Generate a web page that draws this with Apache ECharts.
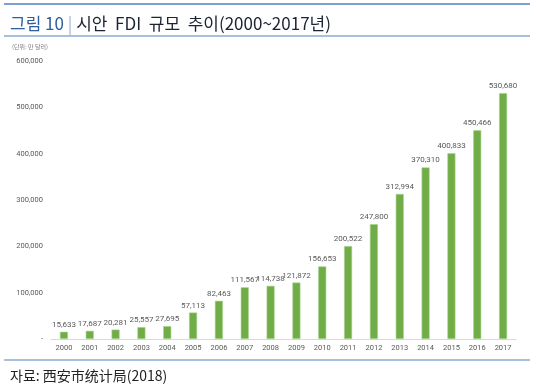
<!DOCTYPE html>
<html><head><meta charset="utf-8">
<script src="https://cdn.jsdelivr.net/npm/echarts@6/dist/echarts.min.js"></script>
<style>html,body{margin:0;padding:0;background:#fff}#c{width:536px;height:389px}</style>
</head><body><div id="c"></div>
<script>
const years = ['2000','2001','2002','2003','2004','2005','2006','2007','2008','2009','2010','2011','2012','2013','2014','2015','2016','2017'];
const fdi = [15633,17687,20281,25557,27695,57113,82463,111567,114738,121872,156653,200522,247800,312994,370310,400833,450466,530680];
const yTicks = [0,100000,200000,300000,400000,500000,600000];

const chart = echarts.init(document.getElementById('c'), null, {renderer:'canvas'});
const fmt = v => v === 0 ? '-' : v.toLocaleString('en-US');
chart.setOption({
  animation:false,
  textStyle:{fontFamily:'"Noto Sans CJK KR","Noto Sans",sans-serif'},
  title:[{
    left:5, top:10,
    text:'{a|그림 10}{b| | }{c|시안  FDI  규모  추이(2000~2017년)}',
    textStyle:{rich:{
      a:{fontSize:17,color:'#2E5E9E',fontWeight:'normal',fontFamily:'"Noto Sans CJK KR"'},
      b:{fontSize:17,color:'#9DB3D4',fontWeight:'normal',fontFamily:'"Noto Sans CJK KR"'},
      c:{fontSize:17,color:'#1B2433',fontWeight:'normal',fontFamily:'"Noto Sans CJK KR"'}
    }}
  },{
    left:7, top:39, text:'(단위: 만 달러)',
    textStyle:{fontSize:6,color:'#808080',fontWeight:'normal',fontFamily:'"Noto Sans CJK KR"'}
  },{
    left:5, top:364, text:'자료: 西安市统计局(2018)',
    textStyle:{fontSize:14,color:'#222',fontWeight:'normal',fontFamily:'"Noto Sans CJK KR"'}
  }],
  graphic:[
    {type:'line',shape:{x1:4,y1:4,x2:530,y2:4},style:{stroke:'#4F81BD',lineWidth:1.5}},
    {type:'line',shape:{x1:4,y1:36,x2:530,y2:36},style:{stroke:'#4F81BD',lineWidth:1}},
    {type:'line',shape:{x1:4,y1:360,x2:530,y2:360},style:{stroke:'#4F81BD',lineWidth:1}}
  ],
  grid:{left:51,right:20,top:61,bottom:50,containLabel:false},
  xAxis:{type:'category',data:years,
    axisLine:{lineStyle:{color:'#D9D9D9'}},axisTick:{show:false},
    axisLabel:{fontSize:7.5,color:'#595959',margin:5,fontFamily:'Roboto'}},
  yAxis:{type:'value',min:0,max:600000,interval:100000,
    axisLine:{show:false},axisTick:{show:false},splitLine:{show:false},
    axisLabel:{fontSize:7.5,color:'#595959',margin:8,fontFamily:'Roboto',formatter:fmt}},
  series:[{type:'bar',data:fdi,barWidth:8,
    itemStyle:{color:'#70AD47',borderColor:'#A9D18E',borderWidth:0.6},
    label:{show:true,position:'top',distance:3,fontSize:8,color:'#595959',fontFamily:'Roboto',formatter:p=>fmt(p.value)}
  }]
});
</script></body></html>
